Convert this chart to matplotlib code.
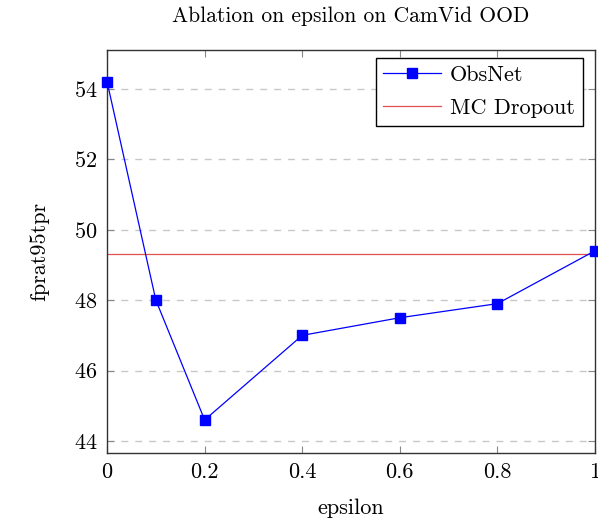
import matplotlib.pyplot as plt

# data
epsilon = [0, 0.1, 0.2, 0.4, 0.6, 0.8, 1.0]
obsnet = [54.2, 48.0, 44.6, 47.0, 47.5, 47.9, 49.4]
mc_dropout = 49.3
xticks = [0, 0.2, 0.4, 0.6, 0.8, 1]
xtick_labels = ["0", "0.2", "0.4", "0.6", "0.8", "1"]
yticks = [44, 46, 48, 50, 52, 54]

plt.rcParams["font.family"] = "serif"
plt.rcParams["font.serif"] = ["cmr10"]
plt.rcParams["mathtext.fontset"] = "cm"
plt.rcParams["axes.formatter.use_mathtext"] = True

fig = plt.figure(figsize=(5.98, 5.25), dpi=100)
ax = fig.add_axes([0.179, 0.137, 0.816, 0.768])

ax.plot(epsilon, obsnet, color="blue", lw=0.9, marker="s", ms=7,
        label="ObsNet", zorder=3, clip_on=False)
ax.axhline(mc_dropout, color="#e05050", lw=0.9, label="MC Dropout")

ax.set_xlim(0, 1)
ax.set_ylim(43.66, 55.1)
ax.set_xticks(xticks)
ax.set_xticklabels(xtick_labels)
ax.set_yticks(yticks)
ax.yaxis.grid(True, ls=(0, (5, 5)), color="#c8c8c8", lw=1)
ax.set_axisbelow(True)
ax.tick_params(direction="in", top=True, right=True, length=5,
               width=0.8, color="#888888", labelsize=16, pad=7)
for s in ax.spines.values():
    s.set_color("#333333")
    s.set_linewidth(1)

ax.set_xlabel("epsilon", fontsize=16, labelpad=12)
ax.set_ylabel("fprat95tpr", fontsize=16, labelpad=18)
ax.set_title("Ablation on epsilon on CamVid OOD", fontsize=15.5, pad=20)

leg = ax.legend(loc="upper right", bbox_to_anchor=(0.975, 0.98),
                fontsize=16, fancybox=False, edgecolor="black",
                framealpha=1, borderaxespad=0, handlelength=2.6,
                borderpad=0.35, labelspacing=0.6, handletextpad=0.4)
leg.get_frame().set_linewidth(1)

fig.savefig("out.png", dpi=100)
